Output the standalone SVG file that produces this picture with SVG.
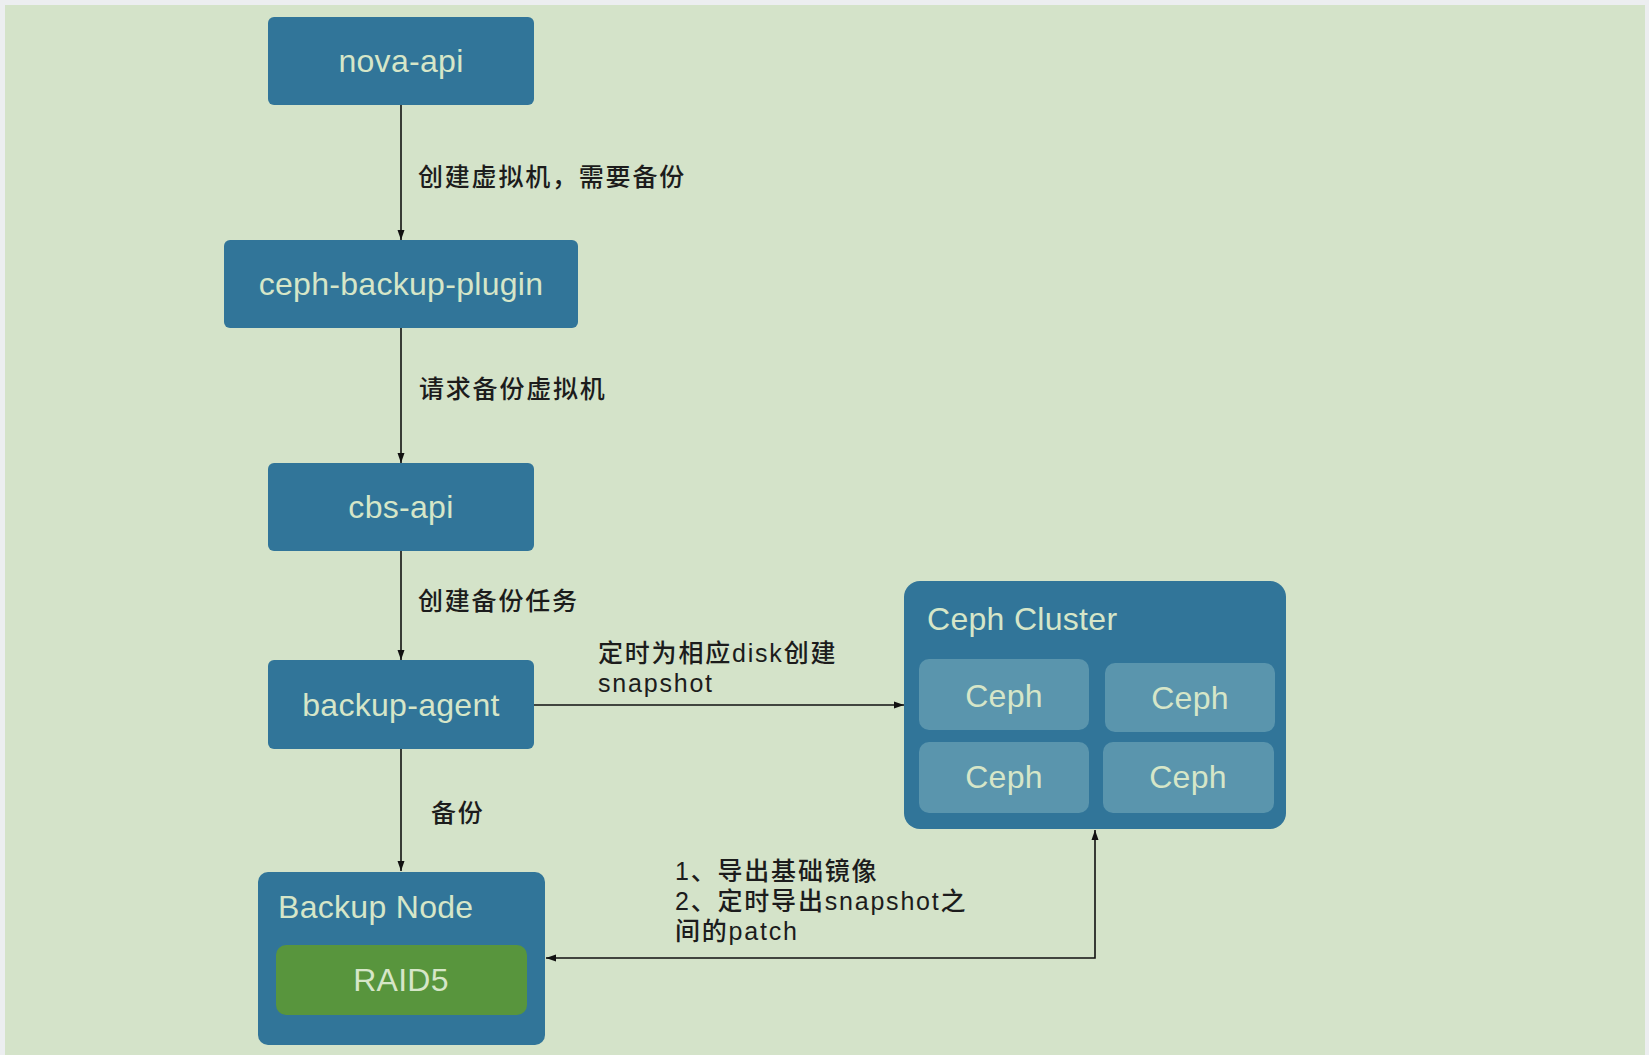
<svg xmlns="http://www.w3.org/2000/svg" width="1649" height="1055" viewBox="0 0 1649 1055">
<style>
.box{fill:#317599}
.inner{fill:#5a95ad}
.btxt{font-family:"Liberation Sans",Arial,sans-serif;font-size:32px;fill:#d6e6c8;letter-spacing:0.3px}
.lbl{font-family:"Liberation Sans","Noto Sans CJK SC",sans-serif;font-size:25px;fill:#1c1c1c;letter-spacing:1.8px;font-weight:500}
.conn{stroke:#111;stroke-width:1.6;fill:none}
</style>
<defs>
<marker id="arr" viewBox="0 0 10 10" refX="10" refY="5" markerWidth="10" markerHeight="10" markerUnits="userSpaceOnUse" orient="auto-start-reverse">
<path d="M0,1.5 L10,5 L0,8.5 Z" fill="#111"/>
</marker>
</defs>
<rect x="0" y="0" width="1649" height="1055" fill="#eceef0"/>
<rect x="5" y="5" width="1640" height="1050" fill="#d4e3c9"/>

<g id="connectors">
<line class="conn" x1="401" y1="105" x2="401" y2="240" marker-end="url(#arr)"/>
<line class="conn" x1="401" y1="328" x2="401" y2="463" marker-end="url(#arr)"/>
<line class="conn" x1="401" y1="551" x2="401" y2="660" marker-end="url(#arr)"/>
<line class="conn" x1="401" y1="749" x2="401" y2="871" marker-end="url(#arr)"/>
<line class="conn" x1="534" y1="705" x2="904" y2="705" marker-end="url(#arr)"/>
<polyline class="conn" points="1095,830 1095,958 546,958" marker-start="url(#arr)" marker-end="url(#arr)"/>
<text class="lbl" x="418" y="186">创建虚拟机，需要备份</text>
<text class="lbl" x="419" y="398">请求备份虚拟机</text>
<text class="lbl" x="418" y="610">创建备份任务</text>
<text class="lbl" x="598" y="662">定时为相应disk创建</text>
<text class="lbl" x="598" y="692">snapshot</text>
<text class="lbl" x="431" y="822">备份</text>
<text class="lbl" x="675" y="880">1、导出基础镜像</text>
<text class="lbl" x="675" y="910">2、定时导出snapshot之</text>
<text class="lbl" x="675" y="940">间的patch</text>
</g>

<g id="nova-api">
<rect class="box" x="268" y="17" width="266" height="88" rx="6"/>
<text class="btxt" x="401" y="72" text-anchor="middle">nova-api</text>
</g>
<g id="ceph-backup-plugin">
<rect class="box" x="224" y="240" width="354" height="88" rx="6"/>
<text class="btxt" x="401" y="295" text-anchor="middle">ceph-backup-plugin</text>
</g>
<g id="cbs-api">
<rect class="box" x="268" y="463" width="266" height="88" rx="6"/>
<text class="btxt" x="401" y="518" text-anchor="middle">cbs-api</text>
</g>
<g id="backup-agent">
<rect class="box" x="268" y="660" width="266" height="89" rx="6"/>
<text class="btxt" x="401" y="716" text-anchor="middle">backup-agent</text>
</g>
<g id="backup-node">
<rect class="box" x="258" y="872" width="287" height="173" rx="10"/>
<text class="btxt" x="278" y="918">Backup Node</text>
<g id="raid5">
<rect x="276" y="945" width="251" height="70" rx="10" fill="#58953d"/>
<text class="btxt" x="401" y="991" text-anchor="middle">RAID5</text>
</g>
</g>
<g id="ceph-cluster">
<rect class="box" x="904" y="581" width="382" height="248" rx="16"/>
<text class="btxt" x="927" y="630">Ceph Cluster</text>
<g id="ceph-1">
<rect class="inner" x="919" y="659" width="170" height="71" rx="10"/>
<text class="btxt" x="1004" y="707" text-anchor="middle">Ceph</text>
</g>
<g id="ceph-2">
<rect class="inner" x="1105" y="663" width="170" height="69" rx="10"/>
<text class="btxt" x="1190" y="709" text-anchor="middle">Ceph</text>
</g>
<g id="ceph-3">
<rect class="inner" x="919" y="742" width="170" height="71" rx="10"/>
<text class="btxt" x="1004" y="788" text-anchor="middle">Ceph</text>
</g>
<g id="ceph-4">
<rect class="inner" x="1103" y="742" width="171" height="71" rx="10"/>
<text class="btxt" x="1188" y="788" text-anchor="middle">Ceph</text>
</g>
</g>
</svg>
